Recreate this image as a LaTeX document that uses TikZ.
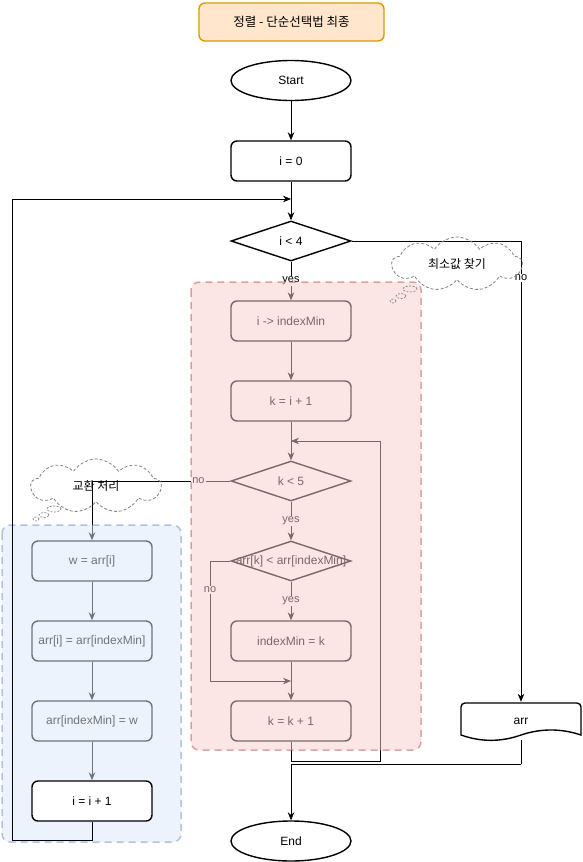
\documentclass[tikz,border=0pt]{standalone}
\usepackage{fontspec}
\setmainfont{Liberation Sans}
\newfontfamily\kor{Noto Sans CJK KR}
\usetikzlibrary{shapes.geometric,shapes.symbols,arrows.meta}
\definecolor{titlefill}{HTML}{FFE6CC}
\definecolor{titledraw}{HTML}{D79B00}
\definecolor{redfill}{HTML}{F8CECC}
\definecolor{reddraw}{HTML}{B85450}
\definecolor{bluefill}{HTML}{DAE8FC}
\definecolor{bluedraw}{HTML}{6C8EBF}
\pgfdeclarelayer{groups}
\pgfdeclarelayer{top}
\pgfsetlayers{main,groups,top}
\tikzset{
  txt/.style={font=\fontsize{12}{14}\selectfont},
  proc/.style={txt,draw,line width=1.4pt,rounded corners=6pt,fill=white,minimum width=120pt,minimum height=40pt},
  term/.style={txt,draw,line width=1.4pt,ellipse,fill=white,minimum width=120pt,minimum height=40pt},
  cond/.style={txt,draw,line width=1.4pt,diamond,aspect=3,inner sep=0pt,fill=white,minimum width=120pt,minimum height=40pt},
  flow/.style={line width=0.8pt,-{Stealth[length=8pt,width=6.5pt]}},
  link/.style={line width=0.8pt},
  lbl/.style={fill=white,inner sep=1pt,font=\fontsize{11}{13}\selectfont},
  group/.style={rounded corners=8pt,line width=1.5pt,dash pattern=on 7pt off 5pt,opacity=0.5},
  note/.style={cloud,cloud puffs=9,cloud puff arc=115,aspect=3,inner sep=0pt,draw=gray,dash pattern=on 3pt off 2pt,line width=0.8pt,minimum width=130pt,minimum height=54pt,font=\kor\fontsize{12}{14}\selectfont},
  bubble/.style={ellipse,draw=gray,dash pattern=on 2pt off 1.5pt,line width=0.7pt,inner sep=0pt},
}
\begin{document}
\begin{tikzpicture}[x=1pt,y=-1pt]
  \useasboundingbox (0,0) rectangle (582,862);
  % Title
  \node[txt,draw=titledraw,fill=titlefill,line width=1.4pt,rounded corners=6pt,minimum width=185pt,minimum height=38pt,font=\kor\fontsize{12.5}{14}\selectfont] (title) at (291.5,22) {정렬 - 단순선택법 최종};
  % Main flow
  \node[term] (start) at (291,80.5) {Start};
  \node[proc] (i0) at (291,161) {i = 0};
  \node[cond] (c1) at (291,241) {i < 4};
  \node[proc] (ind) at (291,321) {i -> indexMin};
  \node[proc] (k1) at (291,401) {k = i + 1};
  \node[cond] (c2) at (291,481) {k < 5};
  \node[cond] (c3) at (291,561) {};
  \node[txt] (c3t) at (c3) {arr[k] < arr[indexMin]};
  \node[proc] (im) at (291,641) {indexMin = k};
  \node[proc] (kk) at (291,721) {k = k + 1};
  % Swap
  \node[proc] (w) at (92,561) {w = arr[i]};
  \node[proc] (a1) at (92,641) {arr[i] = arr[indexMin]};
  \node[proc] (a2) at (92,721) {arr[indexMin] = w};
  \begin{pgfonlayer}{top}
    \node[proc] (ii) at (92,801) {i = i + 1};
  \end{pgfonlayer}
  % Output
  \node[txt,minimum width=120pt,minimum height=38pt] (arr) at (521,721) {arr};
  \draw[line width=1.4pt] (461,735) -- (461,707) arc[start angle=180,end angle=270,radius=4] -- (577,703)
    arc[start angle=270,end angle=360,radius=4] -- (581,735)
    .. controls (561,728.3) and (541,728.3) .. (521,735)
    .. controls (501,742.1) and (481,742.1) .. (461,735) -- cycle;
  \node[term] (end) at (291,841) {End};
  % Helper points
  \coordinate (kl1) at (291,761);
  \coordinate (kl2) at (380,441);
  \coordinate (kin) at (291,441);
  \coordinate (c3n) at (210,681);
  \coordinate (imk) at (291,681);
  \coordinate (ajoin) at (521,764);
  \coordinate (il1) at (92,840);
  \coordinate (il2) at (12,199);
  \coordinate (iin) at (291,199);
  % Edges
  \draw[flow] (start) -- (i0);
  \draw[flow] (i0) -- (c1);
  \draw[flow] (c1) -- node[lbl] {yes} (ind);
  \draw[flow] (ind) -- (k1);
  \draw[flow] (k1) -- (c2);
  \draw[flow] (c2) -- node[lbl] {yes} (c3);
  \draw[flow] (c3) -- node[lbl] {yes} (im);
  \draw[flow] (im) -- (kk);
  \draw[flow] (kk.south) -- (kl1) -| (kl2) -- (kin);
  \draw[link] (c3.west) -| node[lbl,pos=0.62] {no} (c3n);
  \draw[flow] (c3n) -- (imk);
  \draw[flow] (c2.west) -| node[lbl,pos=0.115] {no} (w.north);
  \draw[flow] (c1.east) -| node[lbl,pos=0.54] {no} (arr.north);
  \draw[link] (arr.south) -- (ajoin);
  \draw[flow] (ajoin) -| (end.north);
  \draw[flow] (w) -- (a1);
  \draw[flow] (a1) -- (a2);
  \draw[flow] (a2) -- (ii);
  % Groups
  \begin{pgfonlayer}{groups}
    \draw[group,draw=reddraw,fill=redfill] (191,282) rectangle (421,750);
    \draw[group,draw=bluedraw,fill=bluefill] (2,525) rectangle (181,842);
  \end{pgfonlayer}
  \begin{pgfonlayer}{top}
    \draw[flow] (ii.south) -- (il1) -| (il2) -- (iin);
    % Notes
    \node[note] (n1) at (457,264) {최소값 찾기};
    \node[bubble,minimum width=14pt,minimum height=6pt] (n1a) at (410,289) {};
    \node[bubble,minimum width=10pt,minimum height=5pt] (n1b) at (401,296) {};
    \node[bubble,minimum width=6pt,minimum height=4pt] (n1c) at (393,301) {};
    \node[note] (n2) at (96,486) {교환 처리};
    \node[bubble,minimum width=14pt,minimum height=6pt] (n2a) at (54,509) {};
    \node[bubble,minimum width=10pt,minimum height=5pt] (n2b) at (44,515) {};
    \node[bubble,minimum width=6pt,minimum height=4pt] (n2c) at (36,519) {};
  \end{pgfonlayer}
\end{tikzpicture}
\end{document}
